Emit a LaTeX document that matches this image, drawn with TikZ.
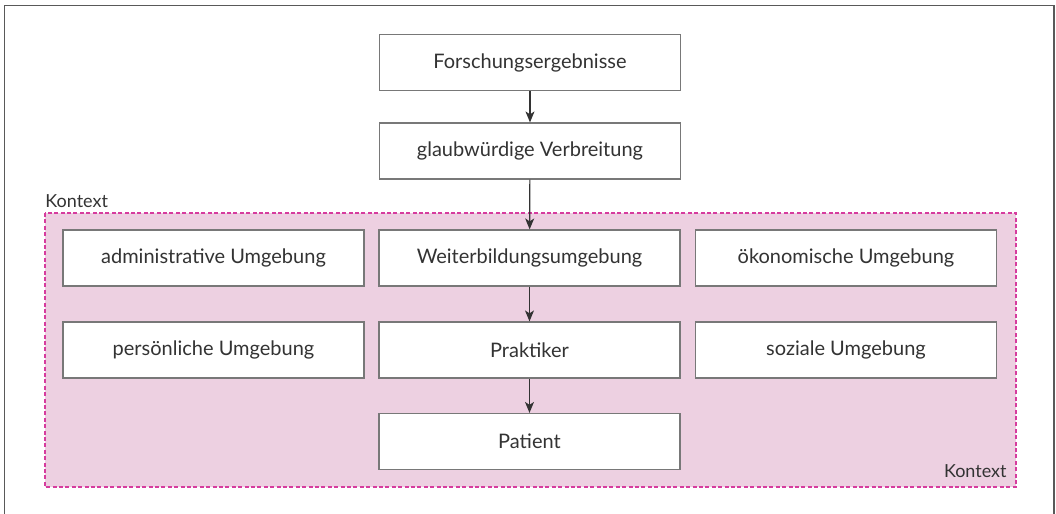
\documentclass[tikz,border=0pt]{standalone}
\usepackage{fontspec}
\setmainfont{Lato}
\usepackage{tikz}
\usetikzlibrary{arrows.meta}
\definecolor{textgray}{RGB}{51,51,51}
\definecolor{boxgray}{RGB}{120,120,120}
\definecolor{kontextpink}{RGB}{237,208,225}
\definecolor{kontextrand}{RGB}{214,60,158}

\begin{document}
\begin{tikzpicture}[x=0.5pt, y=-0.5pt,
    stufe/.style={rectangle, draw=boxgray, line width=0.6pt, fill=white, minimum width=150.5pt, minimum height=28pt, text centered, text=textgray, font=\fontsize{10}{12}\selectfont},
    pfeil/.style={-{Stealth[length=5.5pt, width=4.5pt, inset=1.5pt]}, line width=0.6pt, draw=textgray},
    rahmen/.style={draw=black!65, line width=0.9pt},
    kontextfeld/.style={fill=kontextpink, draw=kontextrand, line width=0.7pt, dash pattern=on 2pt off 1.2pt},
    kontextlabel/.style={inner sep=0pt, text=textgray, font=\fontsize{9}{11}\selectfont}
]
    \useasboundingbox (0,0) rectangle (1056,514);
    \draw[rahmen] (4.5,514) -- (4.5,5.5) -- (1054,5.5) -- (1054,514);

    % Kontext
    \draw[kontextfeld] (45,213) rectangle (1016,487);
    \node[kontextlabel, anchor=base west] (kontextoben) at (45,207) {Kontext};
    \node[kontextlabel, anchor=base east] (kontextunten) at (1007,477) {Kontext};

    \node[stufe] (forschung) at (530,62.5) {Forschungsergebnisse};
    \node[stufe] (verbreitung) at (530,151) {glaubwürdige Verbreitung};

    \node[stufe] (admin) at (213.5,258) {administrative Umgebung};
    \node[stufe] (weiterbildung) at (529.5,258) {Weiterbildungsumgebung};
    \node[stufe] (oekonomisch) at (846,258) {ökonomische Umgebung};

    \node[stufe] (persoenlich) at (213.5,350) {persönliche Umgebung};
    \node[stufe] (praktiker) at (529.5,350) {Praktiker};
    \node[stufe] (sozial) at (846,350) {soziale Umgebung};

    \node[stufe] (patient) at (529.5,441.5) {Patient};

    \draw[pfeil] (forschung) -- (verbreitung);
    \draw[pfeil] (verbreitung) -- (weiterbildung);
    \draw[pfeil] (weiterbildung) -- (praktiker);
    \draw[pfeil] (praktiker) -- (patient);
\end{tikzpicture}
\end{document}
